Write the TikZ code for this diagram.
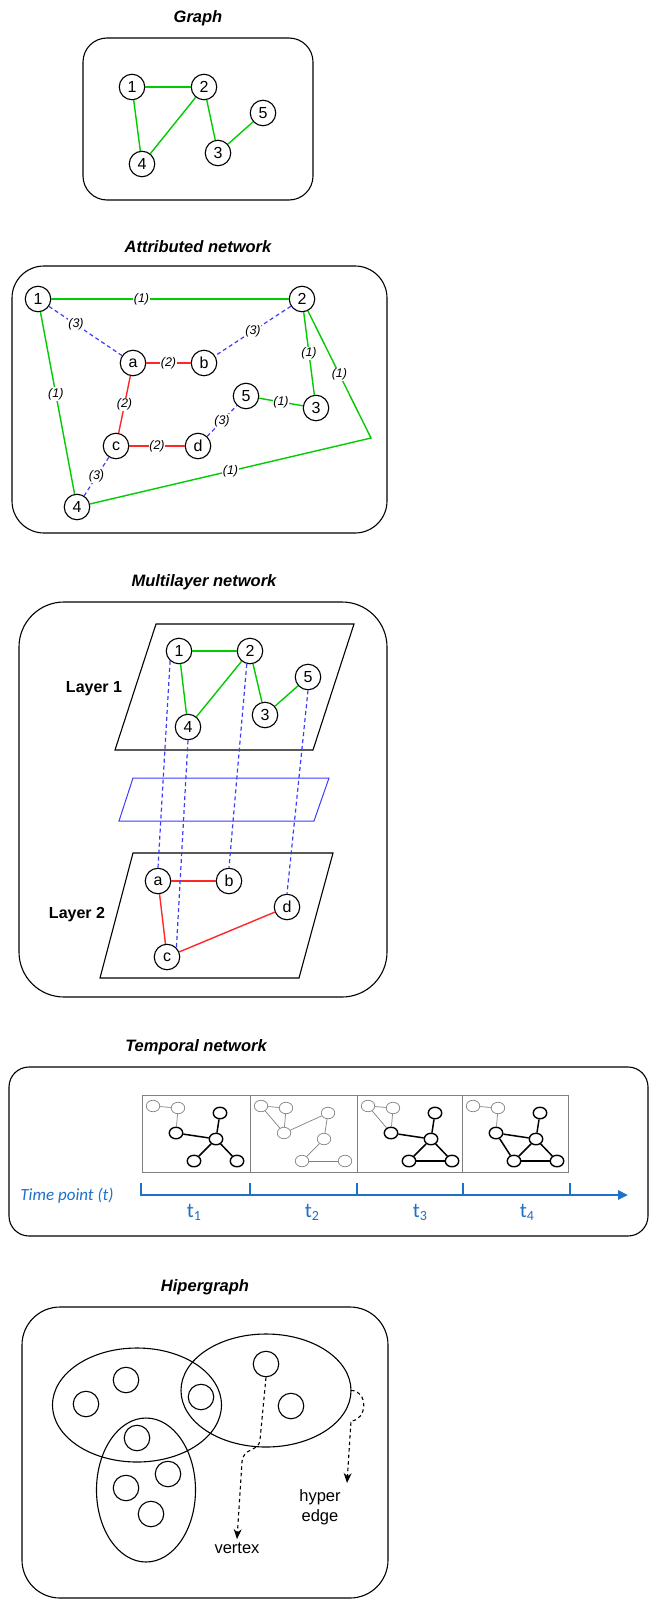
\documentclass[tikz,border=0pt]{standalone}
\usepackage{fontspec}
\setmainfont{Liberation Sans}
\newfontfamily\calibrifont{Carlito}
\usetikzlibrary{arrows.meta,shapes.geometric}

\definecolor{ggreen}{RGB}{0,204,0}
\definecolor{rred}{RGB}{255,40,40}
\definecolor{bblue}{RGB}{60,60,255}
\definecolor{tblue}{RGB}{30,112,200}

% the seven vertices of one snapshot of the temporal network
\newcommand\tverts[8]{%
  \node[#2] (#1A) at (11,11) {};
  \node[#3] (#1B) at (36,13) {};
  \node[#4] (#1C) at (34,38) {};
  \node[#5] (#1D) at (78,18) {};
  \node[#6] (#1E) at (74,44) {};
  \node[#7] (#1F) at (52,66) {};
  \node[#8] (#1G) at (95,66) {};}
\newcommand\tlab[1]{{\calibrifont\fontsize{21}{21}\selectfont t\raisebox{-3pt}{\fontsize{14}{14}\selectfont #1}}}

\begin{document}
\begin{tikzpicture}[x=1pt,y=-1pt,
  panel/.style={draw, line width=1.1pt},
  title/.style={font=\bfseries\itshape\fontsize{16.5}{16.5}\selectfont},
  vtx/.style={circle, draw, line width=1.1pt, fill=white, minimum size=25.5pt, inner sep=0pt, font=\fontsize{16}{16}\selectfont},
  gedge/.style={draw=ggreen, line width=1.4pt},
  redge/.style={draw=rred, line width=1.4pt},
  bedge/.style={draw=bblue, line width=1.2pt, dash pattern=on 4pt off 3pt},
  elab/.style={fill=white, inner sep=0.8pt, font=\itshape\fontsize{12.5}{12.5}\selectfont},
  layerlab/.style={font=\bfseries\fontsize{16}{16}\selectfont},
  gv/.style={ellipse, draw=gray, line width=0.7pt, fill=white, minimum width=13.5pt, minimum height=11.5pt, inner sep=0pt},
  bv/.style={gv, draw=black, line width=1.4pt},
  ge/.style={draw=gray, line width=0.7pt},
  be/.style={draw=black, line width=1.5pt},
  frame/.style={draw=gray, line width=1pt},
  axis/.style={draw=tblue, line width=2.6pt},
  hv/.style={circle, draw, line width=1.1pt, minimum size=25.5pt, inner sep=0pt},
  hedge/.style={draw, line width=1.1pt},
  pointer/.style={draw, line width=1.1pt, dash pattern=on 3.5pt off 3pt, -{Stealth[length=10pt,width=8pt]}},
  note/.style={font=\fontsize{16.5}{20}\selectfont, align=center}
]
\useasboundingbox (0,0) rectangle (649,1600);

% ---------------- Graph ----------------
\node[title] (tg) at (198,18) {Graph};
\draw[panel, rounded corners=24pt] (83,38) rectangle (313,200);
\node[vtx] (g1) at (132,87) {1};
\node[vtx] (g2) at (204,87) {2};
\node[vtx] (g5) at (263,113) {5};
\node[vtx] (g3) at (218,153) {3};
\node[vtx] (g4) at (142,164) {4};
\draw[gedge] (g1) -- (g2);
\draw[gedge] (g1) -- (g4);
\draw[gedge] (g2) -- (g4);
\draw[gedge] (g2) -- (g3);
\draw[gedge] (g3) -- (g5);

% ---------------- Attributed network ----------------
\node[title] (ta) at (198,247) {Attributed network};
\draw[panel, rounded corners=32pt] (12,266) rectangle (387,533);
\node[vtx] (a1) at (38,299) {1};
\node[vtx] (a2) at (302,299) {2};
\node[vtx] (aa) at (133,363) {a};
\node[vtx] (ab) at (204,363) {b};
\node[vtx] (a5) at (246,396) {5};
\node[vtx] (a3) at (316,408) {3};
\node[vtx] (ac) at (116,446) {c};
\node[vtx] (ad) at (198,446) {d};
\node[vtx] (a4) at (77,507) {4};
\coordinate (abend) at (371,438);
\draw[gedge] (a1) -- node[elab, pos=0.38] {(1)} (a2);
\draw[gedge] (a1) -- node[elab, pos=0.45] {(1)} (a4);
\draw[gedge] (a2) -- node[elab] {(1)} (a3);
\draw[gedge] (a5) -- node[elab] {(1)} (a3);
\draw[gedge] (a2) -- node[elab] {(1)} (abend) -- node[elab] {(1)} (a4);
\draw[redge] (aa) -- node[elab] {(2)} (ab);
\draw[redge] (aa) -- node[elab] {(2)} (ac);
\draw[redge] (ac) -- node[elab] {(2)} (ad);
\draw[bedge] (a1) -- node[elab, pos=0.37] {(3)} (aa);
\draw[bedge] (a2) -- node[elab] {(3)} (ab);
\draw[bedge] (ad) -- node[elab] {(3)} (a5);
\draw[bedge] (ac) -- node[elab] {(3)} (a4);

% ---------------- Multilayer network ----------------
\node[title] (tm) at (204,582) {Multilayer network};
\draw[panel, rounded corners=45pt] (19,602) rectangle (387,997);
\draw[line width=1.1pt] (156,624) -- (354,624) -- (313,750) -- (115,750) -- cycle;
\draw[draw=bblue, line width=1pt] (133,778) -- (329,778) -- (314,821) -- (119,821) -- cycle;
\draw[line width=1.1pt] (133,853) -- (333,853) -- (299,978) -- (100,978) -- cycle;
\node[layerlab] (l1) at (94,689) {Layer 1};
\node[layerlab] (l2) at (77,915) {Layer 2};
\node[vtx] (m1) at (179,651) {1};
\node[vtx] (m2) at (250,651) {2};
\node[vtx] (m5) at (308,677) {5};
\node[vtx] (m3) at (265,715) {3};
\node[vtx] (m4) at (188,727) {4};
\node[vtx] (ma) at (158,881) {a};
\node[vtx] (mb) at (229,881) {b};
\node[vtx] (md) at (287,907) {d};
\node[vtx] (mc) at (167,957) {c};
\draw[gedge] (m1) -- (m2);
\draw[gedge] (m1) -- (m4);
\draw[gedge] (m2) -- (m4);
\draw[gedge] (m2) -- (m3);
\draw[gedge] (m3) -- (m5);
\draw[redge] (ma) -- (mb);
\draw[redge] (ma) -- (mc);
\draw[redge] (mc) -- (md);
\draw[bedge] (m1.228) -- (ma.north);
\draw[bedge] (m4.south) -- (mc.45);
\draw[bedge] (m2.256) -- (mb.north);
\draw[bedge] (m5.south) -- (md.north);

% ---------------- Temporal network ----------------
\node[title] (tt) at (196,1047) {Temporal network};
\draw[panel, rounded corners=20pt] (9,1067) rectangle (648,1236);
\draw[frame] (142,1095) rectangle (250,1172);
\draw[frame] (250,1095) rectangle (357,1172);
\draw[frame] (357,1095) rectangle (462,1172);
\draw[frame] (462,1095) rectangle (568,1172);
\begin{scope}[shift={(142,1095)}]
  \tverts{p}{gv}{gv}{bv}{bv}{bv}{bv}{bv}
  \draw[ge] (pA) -- (pB); \draw[ge] (pB) -- (pC);
  \draw[be] (pC) -- (pE); \draw[be] (pD) -- (pE);
  \draw[be] (pE) -- (pF); \draw[be] (pE) -- (pG);
\end{scope}
\begin{scope}[shift={(250,1095)}]
  \tverts{q}{gv}{gv}{gv}{gv}{gv}{gv}{gv}
  \draw[ge] (qA) -- (qB); \draw[ge] (qA) -- (qC); \draw[ge] (qB) -- (qC);
  \draw[ge] (qC) -- (qD); \draw[ge] (qD) -- (qE);
  \draw[ge] (qE) -- (qF); \draw[ge] (qF) -- (qG);
\end{scope}
\begin{scope}[shift={(357,1095)}]
  \tverts{r}{gv}{gv}{bv}{bv}{bv}{bv}{bv}
  \draw[ge] (rA) -- (rB); \draw[ge] (rA) -- (rC); \draw[ge] (rB) -- (rC);
  \draw[be] (rC) -- (rE); \draw[be] (rD) -- (rE);
  \draw[be] (rE) -- (rF); \draw[be] (rE) -- (rG); \draw[be] (rF) -- (rG);
\end{scope}
\begin{scope}[shift={(462,1095)}]
  \tverts{s}{gv}{gv}{bv}{bv}{bv}{bv}{bv}
  \draw[ge] (sA) -- (sB); \draw[ge] (sB) -- (sC);
  \draw[be] (sC) -- (sE); \draw[be] (sC) -- (sF); \draw[be] (sD) -- (sE);
  \draw[be] (sE) -- (sF); \draw[be] (sE) -- (sG); \draw[be] (sF) -- (sG);
\end{scope}
\coordinate (ax0) at (141,1183);
\coordinate (ax1) at (141,1195);
\coordinate (axend) at (628,1195);
\draw[axis, -{Triangle[length=10pt,width=9pt]}] (ax0) -- (ax1) -- (axend);
\foreach \x in {250,357,463,570} \draw[axis] (\x,1183) -- (\x,1195);
\node[text=tblue, font=\calibrifont\itshape\fontsize{17}{17}\selectfont] (tp) at (67,1196) {Time point (t)};
\node[text=tblue] (t1) at (194,1212) {\tlab{1}};
\node[text=tblue] (t2) at (312,1212) {\tlab{2}};
\node[text=tblue] (t3) at (420,1212) {\tlab{3}};
\node[text=tblue] (t4) at (527,1212) {\tlab{4}};

% ---------------- Hipergraph ----------------
\node[title] (th) at (205,1287) {Hipergraph};
\draw[panel, rounded corners=38pt] (22,1307) rectangle (388,1598);
\draw[hedge] (137,1405) ellipse [x radius=84.5, y radius=57];
\draw[hedge] (266,1390.5) ellipse [x radius=85, y radius=56.5];
\draw[hedge] (146,1490) ellipse [x radius=49.5, y radius=72];
\coordinate (hend) at (351,1390.5);
\node[hv] (h1) at (86,1404) {};
\node[hv] (h2) at (126,1380) {};
\node[hv] (h3) at (201,1397) {};
\node[hv] (h4) at (137,1438) {};
\node[hv] (h5) at (266,1364) {};
\node[hv] (h6) at (291,1406) {};
\node[hv] (h7) at (168,1474) {};
\node[hv] (h8) at (126,1488) {};
\node[hv] (h9) at (151,1514) {};
\node[note] (nv) at (237,1548) {vertex};
\node[note] (ne) at (320,1507) {hyper\\edge};
\draw[pointer] (h5.south) -- (260,1440) .. controls (259,1452) and (243,1447) .. (242,1462) -- (nv.north -| 237,1527);
\draw[pointer] (hend) .. controls (368,1390) and (368,1420) .. (351,1421) -- (347,1483);
\end{tikzpicture}
\end{document}
